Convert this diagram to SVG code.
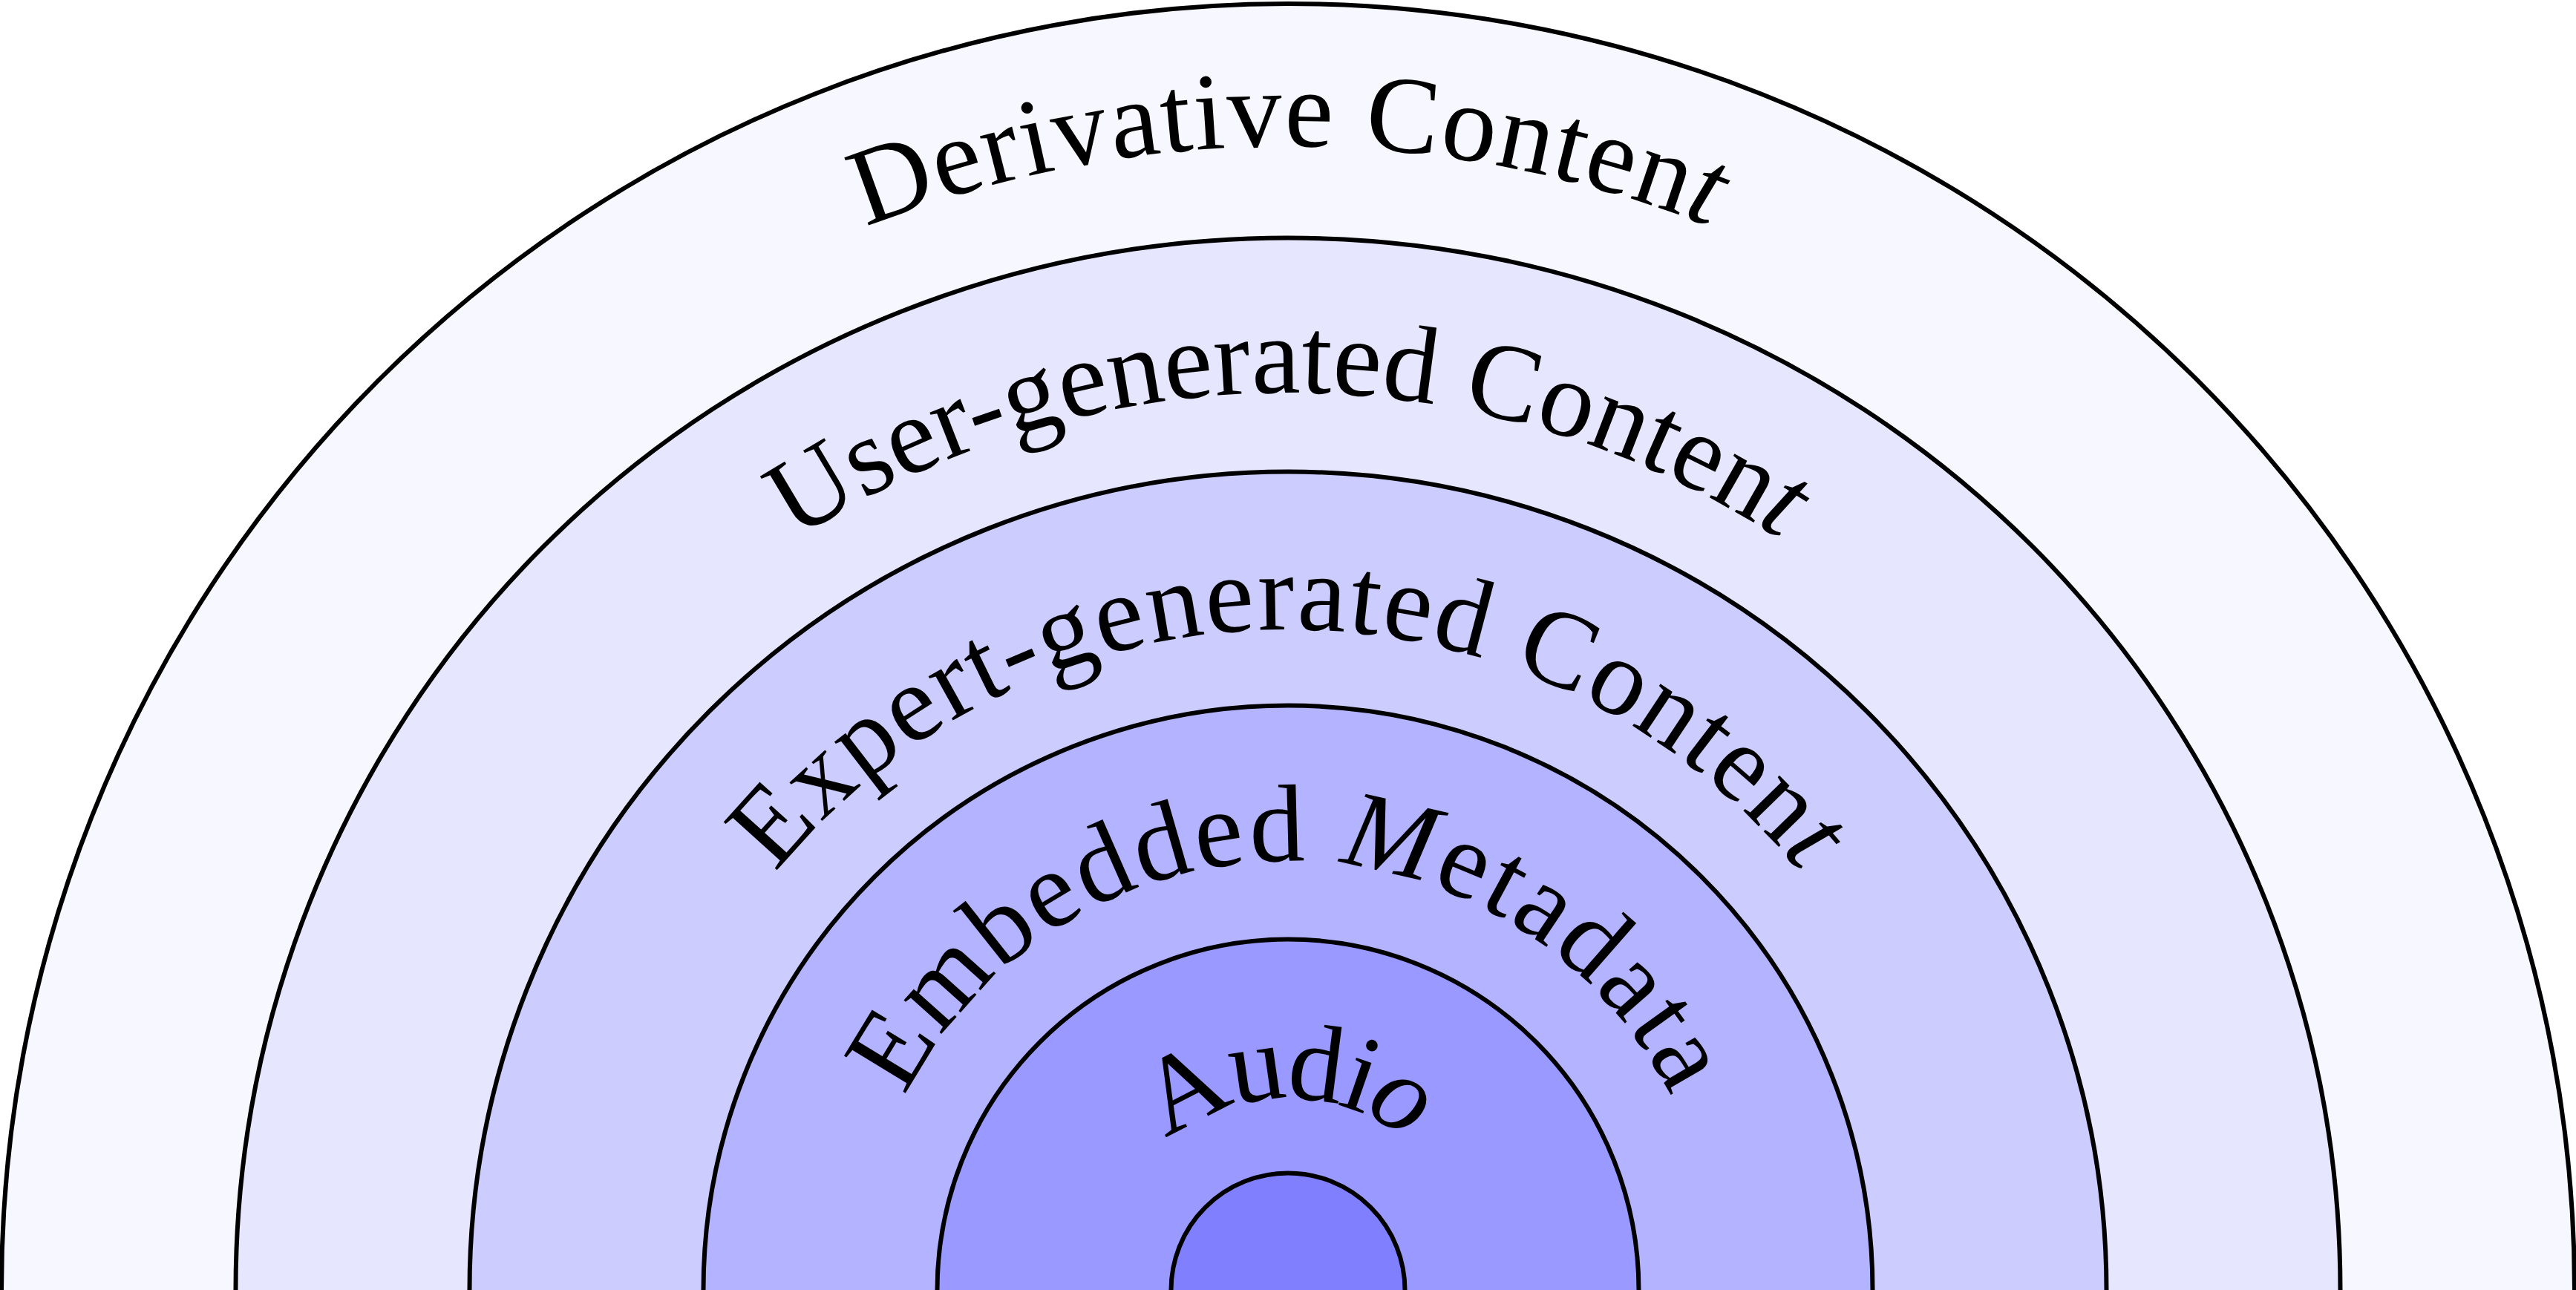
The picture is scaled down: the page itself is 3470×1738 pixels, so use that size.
<svg xmlns="http://www.w3.org/2000/svg" xmlns:xlink="http://www.w3.org/1999/xlink" width="3470" height="1738" viewBox="0 0 3470 1738">
<style>
.ring{stroke:#000;stroke-width:6}
.lbl{font-family:"Liberation Serif","Times New Roman",serif;font-size:148px;fill:#000}
.it{font-style:italic}
</style>
<defs>
<path id="p1" d="M1477,1738 A258,258 0 0 1 1993,1738"/>
<path id="p2" d="M1157,1738 A578,578 0 0 1 2313,1738"/>
<path id="p3" d="M845,1738 A890,890 0 0 1 2625,1738"/>
<path id="p4" d="M526,1738 A1209,1209 0 0 1 2944,1738"/>
<path id="p5" d="M194,1738 A1541,1541 0 0 1 3276,1738"/>
</defs>
<rect x="0" y="0" width="3470" height="1738" fill="#ffffff"/>
<g id="derivative-content">
<circle class="ring" cx="1735" cy="1738" r="1733" fill="#F7F7FF"/>
</g>
<g id="user-generated-content">
<circle class="ring" cx="1735" cy="1738" r="1417.5" fill="#E6E6FF"/>
</g>
<g id="expert-generated-content">
<circle class="ring" cx="1735" cy="1738" r="1102.5" fill="#CCCCFF"/>
</g>
<g id="embedded-metadata">
<circle class="ring" cx="1735" cy="1738" r="787.5" fill="#B3B3FF"/>
</g>
<g id="audio">
<circle class="ring" cx="1735" cy="1738" r="472.5" fill="#9999FF"/>
</g>
<g id="core">
<circle class="ring" cx="1735" cy="1738" r="157.5" fill="#8080FF"/>
</g>
<g id="labels">
<text class="lbl"><textPath xlink:href="#p1" href="#p1" startOffset="50%" text-anchor="middle" textLength="352" lengthAdjust="spacing">Audi<tspan class="it">o</tspan></textPath></text>
<text class="lbl"><textPath xlink:href="#p2" href="#p2" startOffset="50%" text-anchor="middle" textLength="1275" lengthAdjust="spacing">Embedded <tspan class="it">M</tspan>etadata</textPath></text>
<text class="lbl"><textPath xlink:href="#p3" href="#p3" startOffset="50%" text-anchor="middle" textLength="1580" lengthAdjust="spacing">Expert-generated Conten<tspan class="it">t</tspan></textPath></text>
<text class="lbl"><textPath xlink:href="#p4" href="#p4" startOffset="50%" text-anchor="middle" textLength="1405" lengthAdjust="spacing">User-generated Conten<tspan class="it">t</tspan></textPath></text>
<text class="lbl"><textPath xlink:href="#p5" href="#p5" startOffset="50%" text-anchor="middle" textLength="1165" lengthAdjust="spacing">Derivative Conten<tspan class="it">t</tspan></textPath></text>
</g>
</svg>
